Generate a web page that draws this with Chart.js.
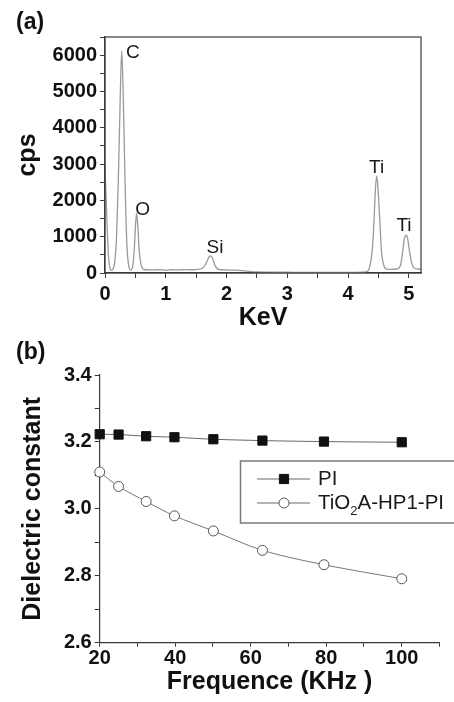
<!DOCTYPE html>
<html>
<head>
<meta charset="utf-8">
<script src="https://cdn.jsdelivr.net/npm/chart.js@4.4.1/dist/chart.umd.min.js"></script>
<style>
  html, body { margin: 0; padding: 0; background: #fff; }
  #wrapA { position: absolute; left: 0; top: 0; width: 454px; height: 335px; }
  #wrapB { position: absolute; left: 0; top: 335px; width: 454px; height: 367px; }
</style>
</head>
<body>
<div id="wrapA"><canvas id="chartA" width="454" height="335"></canvas></div>
<div id="wrapB"><canvas id="chartB" width="454" height="367"></canvas></div>
<script>
// ---------- Panel (a): EDS spectrum ----------
const energyKeV = [0, 0.03, 0.06, 0.09, 0.11, 0.13, 0.16, 0.19, 0.22, 0.25, 0.275, 0.30, 0.33, 0.36, 0.39, 0.42,
  0.45, 0.48, 0.50, 0.52, 0.54, 0.56, 0.59, 0.62, 0.66,
  0.7, 0.8, 0.9, 1.0, 1.1, 1.2, 1.3, 1.4, 1.5, 1.6,
  1.64, 1.68, 1.72, 1.74, 1.77, 1.80, 1.84, 1.9,
  2.0, 2.1, 2.2, 2.3, 2.4, 2.5, 2.7, 3.0, 3.5, 4.0, 4.25, 4.33,
  4.35, 4.39, 4.42, 4.45, 4.47, 4.49, 4.52, 4.55, 4.59, 4.63, 4.7, 4.8,
  4.86, 4.9, 4.93, 4.96, 4.98, 5.01, 5.05, 5.09, 5.15, 5.2];
const countsCps = [3000, 1500, 400, 100, 70, 100, 300, 1000, 2600, 4800, 6120, 4900, 2500, 800, 200, 80,
  150, 600, 1250, 1650, 1300, 700, 250, 120, 90,
  90, 85, 95, 80, 90, 85, 95, 90, 95, 130,
  200, 330, 460, 470, 400, 250, 130, 90,
  85, 80, 75, 60, 40, 30, 25, 20, 15, 15, 20, 60,
  150, 500, 1200, 2300, 2670, 2400, 1500, 600, 200, 110, 100, 110,
  200, 600, 980, 1040, 950, 600, 250, 130, 110, 100];
const peakLabels = [
  { text: 'C',  energy: 0.46, cps: 6077 },
  { text: 'O',  energy: 0.62, cps: 1755 },
  { text: 'Si', energy: 1.81, cps: 685 },
  { text: 'Ti', energy: 4.47, cps: 2894 },
  { text: 'Ti', energy: 4.92, cps: 1297 }
];
const keVTicksMajor = [0, 1, 2, 3, 4, 5];
const keVTicksAll = [0, 0.5, 1, 1.5, 2, 2.5, 3, 3.5, 4, 4.5, 5];
const cpsTicksMajor = [0, 1000, 2000, 3000, 4000, 5000, 6000];
const cpsTicksAll = [0, 500, 1000, 1500, 2000, 2500, 3000, 3500, 4000, 4500, 5000, 5500, 6000, 6500];

// ---------- Panel (b): dielectric constant ----------
const freqKHz = [20, 25, 32.3, 39.8, 50.1, 63.1, 79.4, 100];
const dielectricPI = [3.223, 3.222, 3.217, 3.214, 3.208, 3.204, 3.201, 3.199];
const dielectricTiO2 = [3.110, 3.067, 3.022, 2.979, 2.934, 2.876, 2.833, 2.791];
const freqTicksMajor = [20, 40, 60, 80, 100];
const freqTicksAll = [20, 30, 40, 50, 60, 70, 80, 90, 100, 110];
const dielectricTicksMajor = [2.6, 2.8, 3.0, 3.2, 3.4];
const dielectricTicksAll = [2.6, 2.7, 2.8, 2.9, 3.0, 3.1, 3.2, 3.3, 3.4];

const FONT = '"Liberation Sans", Arial, Helvetica, sans-serif';
const tickFont = { family: FONT, size: 20, weight: 'bold' };
const titleFont = { family: FONT, size: 25, weight: 'bold', lineHeight: 1.2 };
const AXIS = '#3a3a3a';

function near(v, arr) { return arr.some(a => Math.abs(a - v) < 1e-6); }
function setTicks(arr) { return s => { s.ticks = arr.map(v => ({ value: v })); }; }

const frameAndLabels = {
  id: 'frameAndLabels',
  afterDatasetsDraw(chart) {
    const { ctx, chartArea: a, scales } = chart;
    ctx.save();
    ctx.strokeStyle = AXIS;
    ctx.lineWidth = 1.2;
    ctx.strokeRect(a.left, a.top, a.right - a.left, a.bottom - a.top);
    ctx.fillStyle = '#1a1a1a';
    ctx.font = '19px ' + FONT;
    ctx.textAlign = 'center';
    ctx.textBaseline = 'middle';
    peakLabels.forEach(p => {
      ctx.fillText(p.text, scales.x.getPixelForValue(p.energy), scales.y.getPixelForValue(p.cps));
    });
    ctx.font = 'bold 23px ' + FONT;
    ctx.textAlign = 'left';
    ctx.fillStyle = '#111';
    ctx.fillText('(a)', 16, 23);
    ctx.restore();
  }
};

new Chart(document.getElementById('chartA'), {
  type: 'line',
  data: {
    datasets: [{
      data: energyKeV.map((e, i) => ({ x: e, y: countsCps[i] })),
      borderColor: '#9a9a9a',
      borderWidth: 1.3,
      pointRadius: 0,
      cubicInterpolationMode: 'monotone',
      fill: false
    }]
  },
  options: {
    responsive: false,
    animation: false,
    events: [],
    layout: { padding: { top: 37, right: 33, left: 0, bottom: 0 } },
    plugins: { legend: { display: false }, tooltip: { enabled: false } },
    scales: {
      x: {
        type: 'linear', min: 0, max: 5.2,
        afterBuildTicks: setTicks(keVTicksAll),
        afterFit: s => { s.height = 62; },
        border: { color: AXIS, width: 1.2 },
        grid: { drawOnChartArea: false, tickLength: 5, color: AXIS },
        ticks: {
          padding: 4, color: '#111', font: tickFont, maxRotation: 0,
          autoSkip: false,
          callback: v => near(v, keVTicksMajor) ? String(Math.round(v)) : ''
        },
        title: { display: true, text: 'KeV', color: '#111', font: titleFont, padding: { top: 0, bottom: 2 } }
      },
      y: {
        type: 'linear', min: 0, max: 6500,
        afterBuildTicks: setTicks(cpsTicksAll),
        afterFit: s => { s.width = 105; },
        border: { color: AXIS, width: 1.2 },
        grid: { drawOnChartArea: false, tickLength: 5, color: AXIS },
        ticks: {
          padding: 3, color: '#111', font: tickFont, autoSkip: false,
          callback: v => near(v, cpsTicksMajor) ? String(v) : ''
        },
        title: { display: true, text: 'cps', color: '#111', font: titleFont, padding: { top: 13, bottom: 0 } }
      }
    }
  },
  plugins: [frameAndLabels]
});

const legendB = {
  id: 'legendB',
  afterDatasetsDraw(chart) {
    const { ctx } = chart;
    ctx.save();
    ctx.strokeStyle = '#7a7a7a';
    ctx.lineWidth = 1.5;
    ctx.strokeRect(240.5, 126, 230, 62);
    const rows = [
      { y: 144, ds: chart.data.datasets[0] },
      { y: 168, ds: chart.data.datasets[1] }
    ];
    rows.forEach(r => {
      ctx.strokeStyle = '#666';
      ctx.lineWidth = 1;
      ctx.beginPath(); ctx.moveTo(257, r.y); ctx.lineTo(310, r.y); ctx.stroke();
      ctx.fillStyle = r.ds.pointBackgroundColor;
      ctx.strokeStyle = r.ds.pointBorderColor;
      ctx.lineWidth = r.ds.pointBorderWidth;
      ctx.beginPath();
      if (r.ds.pointStyle === 'rect') {
        const h = Math.SQRT1_2 * r.ds.pointRadius;
        ctx.rect(284 - h, r.y - h, 2 * h, 2 * h);
      } else {
        ctx.arc(284, r.y, r.ds.pointRadius, 0, Math.PI * 2);
      }
      ctx.fill(); ctx.stroke();
    });
    ctx.fillStyle = '#1a1a1a';
    ctx.textBaseline = 'middle';
    ctx.textAlign = 'left';
    ctx.font = '20.5px ' + FONT;
    ctx.fillText('PI', 318, 144);
    let x = 318;
    const parts = ['TiO', '2', 'A-HP1-PI'];
    ctx.fillText(parts[0], x, 168); x += ctx.measureText(parts[0]).width;
    ctx.font = '13px ' + FONT;
    ctx.fillText(parts[1], x, 176); x += ctx.measureText(parts[1]).width;
    ctx.font = '20.5px ' + FONT;
    ctx.fillText(parts[2], x, 168);
    ctx.font = 'bold 23px ' + FONT;
    ctx.fillStyle = '#111';
    ctx.fillText('(b)', 16, 18);
    ctx.restore();
  }
};

new Chart(document.getElementById('chartB'), {
  type: 'line',
  data: {
    datasets: [
      {
        label: 'PI',
        data: freqKHz.map((f, i) => ({ x: f, y: dielectricPI[i] })),
        borderColor: '#666', borderWidth: 1,
        pointStyle: 'rect', pointRadius: 6.5,
        pointBackgroundColor: '#111', pointBorderColor: '#111', pointBorderWidth: 1,
        tension: 0.3, clip: false
      },
      {
        label: 'TiO₂A-HP1-PI',
        data: freqKHz.map((f, i) => ({ x: f, y: dielectricTiO2[i] })),
        borderColor: '#777', borderWidth: 1,
        pointStyle: 'circle', pointRadius: 5,
        pointBackgroundColor: '#fff', pointBorderColor: '#555', pointBorderWidth: 1,
        tension: 0.3, clip: false
      }
    ]
  },
  options: {
    responsive: false,
    animation: false,
    events: [],
    layout: { padding: { top: 40, right: 14.5, left: 0, bottom: 0 } },
    plugins: { legend: { display: false }, tooltip: { enabled: false } },
    scales: {
      x: {
        type: 'linear', min: 20, max: 110,
        afterBuildTicks: setTicks(freqTicksAll),
        afterFit: s => { s.height = 59.3; },
        border: { color: AXIS, width: 1.2 },
        grid: { drawOnChartArea: false, tickLength: 4, color: AXIS },
        ticks: {
          padding: 0, color: '#111', font: tickFont, maxRotation: 0, autoSkip: false,
          callback: v => near(v, freqTicksMajor) ? String(Math.round(v)) : ''
        },
        title: { display: true, text: 'Frequence (KHz )', color: '#111', font: titleFont, padding: { top: 0, bottom: 4.5 } }
      },
      y: {
        type: 'linear', min: 2.6, max: 3.4,
        afterBuildTicks: setTicks(dielectricTicksAll),
        afterFit: s => { s.width = 99.7; },
        border: { color: AXIS, width: 1.2 },
        grid: { drawOnChartArea: false, tickLength: 5, color: AXIS },
        ticks: {
          padding: 3, color: '#111', font: tickFont, autoSkip: false,
          callback: v => near(v, dielectricTicksMajor) ? v.toFixed(1) : ''
        },
        title: { display: true, text: 'Dielectric constant', color: '#111', font: titleFont, padding: { top: 18, bottom: 0 } }
      }
    }
  },
  plugins: [legendB]
});
</script>
</body>
</html>
